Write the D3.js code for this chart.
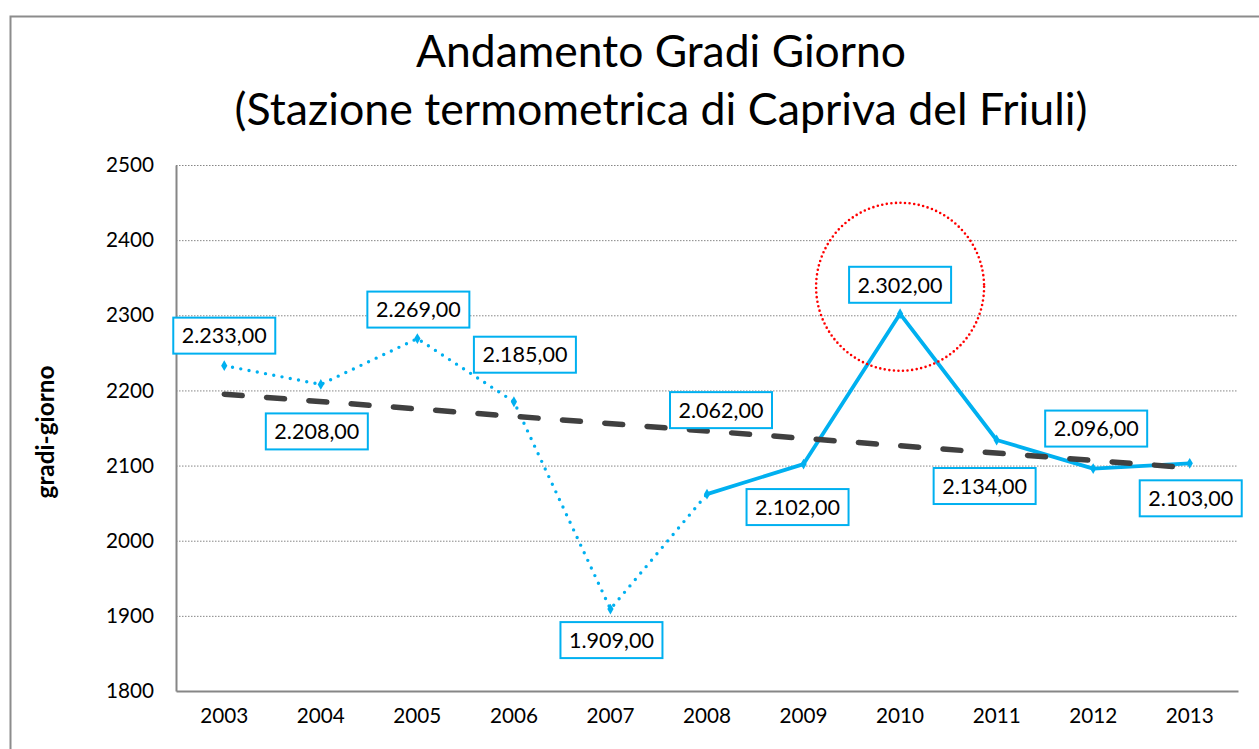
<!DOCTYPE html>
<html><head><meta charset="utf-8">
<script src="https://cdn.jsdelivr.net/npm/d3@7/dist/d3.min.js"></script>
<style>
html,body{margin:0;padding:0;background:#fff;overflow:hidden;}
svg{display:block;font-family:Lato,"Liberation Sans",sans-serif;}
</style></head>
<body>
<svg id="chart" width="1259" height="749"></svg>
<script>
// ---- data ----
const years = ["2003","2004","2005","2006","2007","2008","2009","2010","2011","2012","2013"];
const gradiGiorno = [2233, 2208, 2269, 2185, 1909, 2062, 2102, 2302, 2134, 2096, 2103];
const trendValues = [2195, 2097];          // linear trend line, start (2003) and end (2013)
const yTicks = [1800, 1900, 2000, 2100, 2200, 2300, 2400, 2500];
const titleLines = ["Andamento Gradi Giorno", "(Stazione termometrica di Capriva del Friuli)"];
const yTitle = "gradi-giorno";
const dottedUntil = "2008";                // dotted segment runs 2003..2008, solid afterwards
const highlightYear = "2010";
// label placement relative to its point (layout, pixels)
const labelOffsets = [[0,-30],[-4,47],[1,-29],[11,-47],[1,31],[14,-84],[-6,43],[0,-29],[-12,46],[3,-40],[1,35]];

const fmt = v => {
  const s = d3.format(",.2f")(v);
  return s.replace(/,/g,"#").replace(/\./g,",").replace(/#/g,".");
};

const svg = d3.select("#chart");
const M = {left:176, right:1238, top:165, bottom:691};

// helper: font size giving a wanted width for a sample string
function fitSize(sample, targetW, weight) {
  const t = svg.append("text").style("font-size","20px").style("font-weight",weight||"normal").text(sample);
  const w = t.node().getComputedTextLength();
  t.remove();
  return 20 * targetW / w;
}

// outer frame (only top and left edges are inside the picture)
svg.append("path").attr("d","M10.5,760V16.5H1270")
  .attr("fill","none").attr("stroke","#8c8c8c").attr("stroke-width",2);

const x = d3.scaleBand().domain(years).range([M.left, M.right]);
const y = d3.scaleLinear().domain([1800, 2500]).range([M.bottom, M.top]);
const cx = d => x(d) + x.bandwidth()/2;

// title
const titleWidths = [490, 853];
titleLines.forEach((t,i) => {
  svg.append("text").attr("x",661).attr("y", i===0 ? 67 : 125)
    .attr("text-anchor","middle").attr("fill","#000")
    .style("font-size", fitSize(t, titleWidths[i]).toFixed(2)+"px").text(t);
});

// gridlines
svg.append("g").selectAll("line").data(yTicks.filter(t => t !== 1800)).join("line")
  .attr("x1",M.left).attr("x2",M.right).attr("y1",d=>y(d)+0.5).attr("y2",d=>y(d)+0.5)
  .attr("stroke","#868686").attr("stroke-width",1).attr("stroke-dasharray","1.5,1.5");

const tickFont = fitSize("2500", 48).toFixed(2)+"px";

// axes
const yAxis = svg.append("g").attr("transform",`translate(${M.left},0)`)
  .call(d3.axisLeft(y).tickValues(yTicks).tickSize(0).tickPadding(22).tickFormat(d3.format("d")));
yAxis.attr("font-family",null).attr("font-size",null);
yAxis.select(".domain").attr("stroke","#868686").attr("stroke-width",2);
yAxis.selectAll("text").style("font-size",tickFont).attr("fill","#000");

const xAxis = svg.append("g").attr("transform",`translate(0,${M.bottom})`)
  .call(d3.axisBottom(x).tickSize(0).tickPadding(17));
xAxis.attr("font-family",null).attr("font-size",null);
xAxis.select(".domain").attr("stroke","#868686").attr("stroke-width",2);
xAxis.selectAll("text").style("font-size",tickFont).attr("fill","#000");

// y title
svg.append("text").attr("transform",`translate(54,${(M.top+M.bottom)/2 + 4}) rotate(-90)`)
  .attr("text-anchor","middle").style("font-size",fitSize(yTitle,133,"bold").toFixed(2)+"px")
  .style("font-weight","bold").attr("fill","#000").text(yTitle);

// series
const pts = years.map((yr,i) => ({yr, v:gradiGiorno[i], i}));
const line = d3.line().x(d=>cx(d.yr)).y(d=>y(d.v));
const cut = years.indexOf(dottedUntil);
const blue = "#00B0F0";
svg.append("path").datum(pts.slice(0,cut+1)).attr("d",line).attr("fill","none")
  .attr("stroke",blue).attr("stroke-width",3.4).attr("stroke-linecap","round")
  .attr("stroke-dasharray","0,8.4");
svg.append("path").datum(pts.slice(cut)).attr("d",line).attr("fill","none")
  .attr("stroke",blue).attr("stroke-width",3.8).attr("stroke-linejoin","round");

// markers
svg.append("g").selectAll("path").data(pts).join("path")
  .attr("transform",d=>`translate(${cx(d.yr)},${y(d.v)})`)
  .attr("d", d3.symbol(d3.symbolDiamond, 34)).attr("fill",blue);

// trend line
svg.append("line")
  .attr("x1",cx(years[0])).attr("y1",y(trendValues[0]))
  .attr("x2",cx(years[years.length-1])).attr("y2",y(trendValues[1]))
  .attr("stroke","#404040").attr("stroke-width",5.5).attr("stroke-linecap","round")
  .attr("stroke-dasharray","18,24.4");

// highlight circle
const hi = years.indexOf(highlightYear);
svg.append("circle").attr("cx",cx(highlightYear)).attr("cy",y(gradiGiorno[hi])+labelOffsets[hi][1]+2)
  .attr("r",84).attr("fill","none").attr("stroke","#FF0000").attr("stroke-width",2.6)
  .attr("stroke-dasharray","0,4.6").attr("stroke-linecap","round");

// data labels
const labelFont = fitSize("2.233,00", 85).toFixed(2)+"px";
const lg = svg.append("g").selectAll("g").data(pts).join("g")
  .attr("transform",d=>`translate(${cx(d.yr)+labelOffsets[d.i][0]},${y(d.v)+labelOffsets[d.i][1]})`);
lg.append("rect").attr("x",-51).attr("y",-18).attr("width",102).attr("height",36)
  .attr("fill","#fff").attr("stroke",blue).attr("stroke-width",2);
lg.append("text").attr("text-anchor","middle").attr("dy","0.36em")
  .style("font-size",labelFont).attr("fill","#000").text(d=>fmt(d.v));
</script>
</body></html>
